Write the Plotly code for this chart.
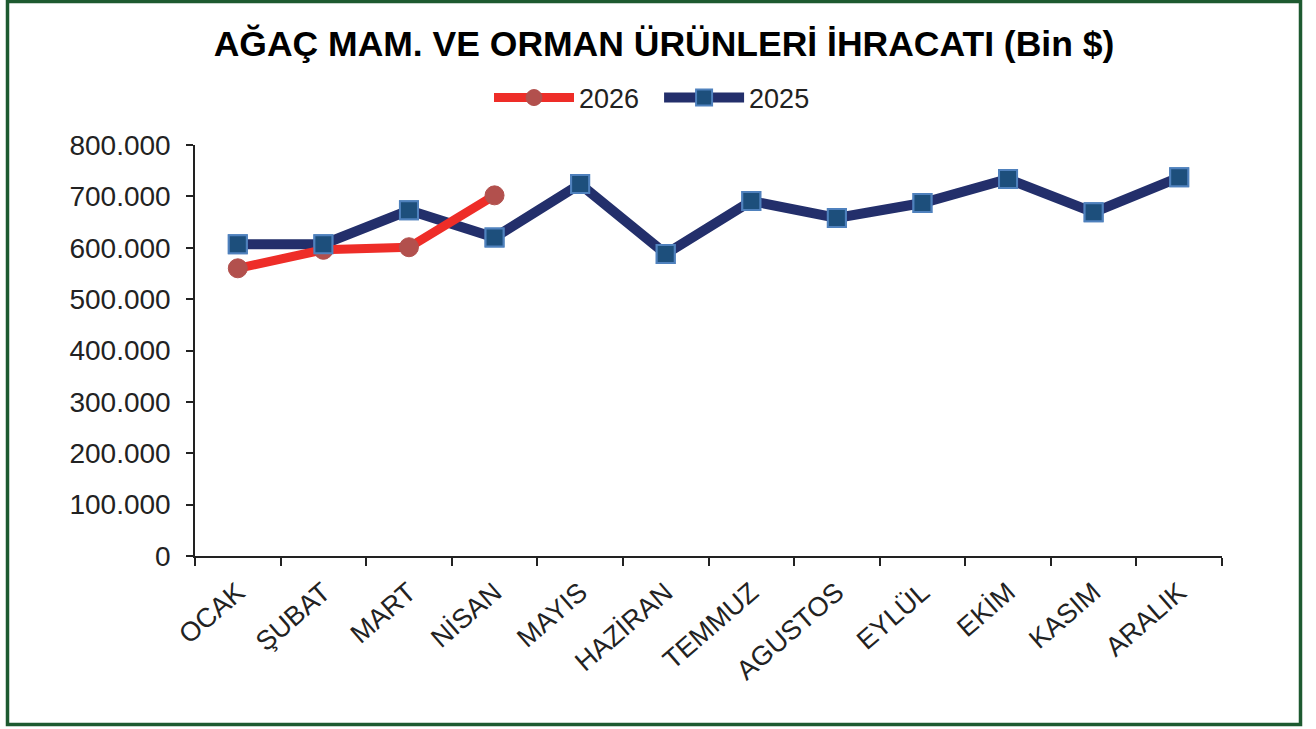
import plotly.graph_objects as go

months = ["OCAK", "ŞUBAT", "MART", "NİSAN", "MAYIS", "HAZİRAN", "TEMMUZ",
          "AGUSTOS", "EYLÜL", "EKİM", "KASIM", "ARALIK"]
values_2025 = [607000, 607000, 673000, 620000, 724000, 588000, 691000,
               658000, 687000, 734000, 669000, 737000]
values_2026 = [560000, 596000, 601000, 702000]
y_ticks = [0, 100000, 200000, 300000, 400000, 500000, 600000, 700000, 800000]

W, H = 1316, 729
L, R, T, B = 195, 1222, 145, 556

BLUE_LINE = "#232f6b"
BLUE_FILL = "#1d4f7c"
BLUE_EDGE = "#4f81bd"
RED_LINE = "#ee2d28"
RED_FILL = "#b2504d"

fig = go.Figure()
fig.add_trace(go.Scatter(
    x=months, y=values_2025, name="2025", mode="lines+markers",
    line=dict(color=BLUE_LINE, width=10),
    marker=dict(symbol="square", size=18, color=BLUE_FILL,
                line=dict(color=BLUE_EDGE, width=2)),
    legendrank=2))
fig.add_trace(go.Scatter(
    x=months[:len(values_2026)], y=values_2026, name="2026\u00a0\u00a0",
    mode="lines+markers",
    line=dict(color=RED_LINE, width=9),
    marker=dict(symbol="circle", size=19, color=RED_FILL,
                line=dict(color=RED_FILL, width=1)),
    legendrank=1))
fig.add_trace(go.Scatter(
    x=months, y=values_2025, name="2025", mode="markers", showlegend=False,
    marker=dict(symbol="square", size=18, color=BLUE_FILL,
                line=dict(color=BLUE_EDGE, width=2))))

pw, ph = R - L, B - T
def px_x(v):
    return (v - L) / pw
def px_y(v):
    return (B - v) / ph

fig.add_shape(type="rect", xref="paper", yref="paper",
              x0=px_x(7.5), x1=px_x(1300.5), y0=px_y(724.5), y1=px_y(1.5),
              line=dict(color="#1d5a30", width=3.5), layer="below")

font_main = "Liberation Sans, Arial, sans-serif"
fig.update_layout(
    width=W, height=H,
    margin=dict(l=L, r=W - R, t=T, b=H - B, pad=0),
    paper_bgcolor="white", plot_bgcolor="white",
    separators=",.",
    font=dict(family=font_main, size=27, color="#222222"),
    title=dict(text="<b>AĞAÇ MAM. VE ORMAN ÜRÜNLERİ İHRACATI (Bin $)</b>",
               x=664 / W, xanchor="center", y=1 - 44 / H, yanchor="middle",
               font=dict(size=35.5, color="#000000", family=font_main)),
    legend=dict(orientation="h", x=px_x(652), xanchor="center",
                y=px_y(98), yanchor="middle",
                font=dict(size=27, color="#222222"),
                itemwidth=80, bgcolor="rgba(0,0,0,0)"),
    showlegend=True,
    xaxis=dict(type="category", range=[-0.5, 11.5], showgrid=False,
               showline=True, linecolor="#222222", linewidth=1.5,
               ticks="outside", ticklen=8, tickcolor="#222222", tickwidth=1.5,
               tickson="boundaries", tickangle=-41, ticklabelstandoff=8,
               tickfont=dict(size=27, color="#222222")),
    yaxis=dict(range=[0, 800000], tickvals=y_ticks, tickformat=",d",
               showgrid=False, zeroline=False,
               showline=True, linecolor="#222222", linewidth=1.5,
               ticks="outside", ticklen=7, tickcolor="#222222", tickwidth=1.5,
               ticklabelstandoff=10,
               tickfont=dict(size=28, color="#222222")),
)

fig.write_html("out.html", config={"displayModeBar": False},
               post_script="document.body.style.margin='0px';document.body.style.overflow='hidden';")
